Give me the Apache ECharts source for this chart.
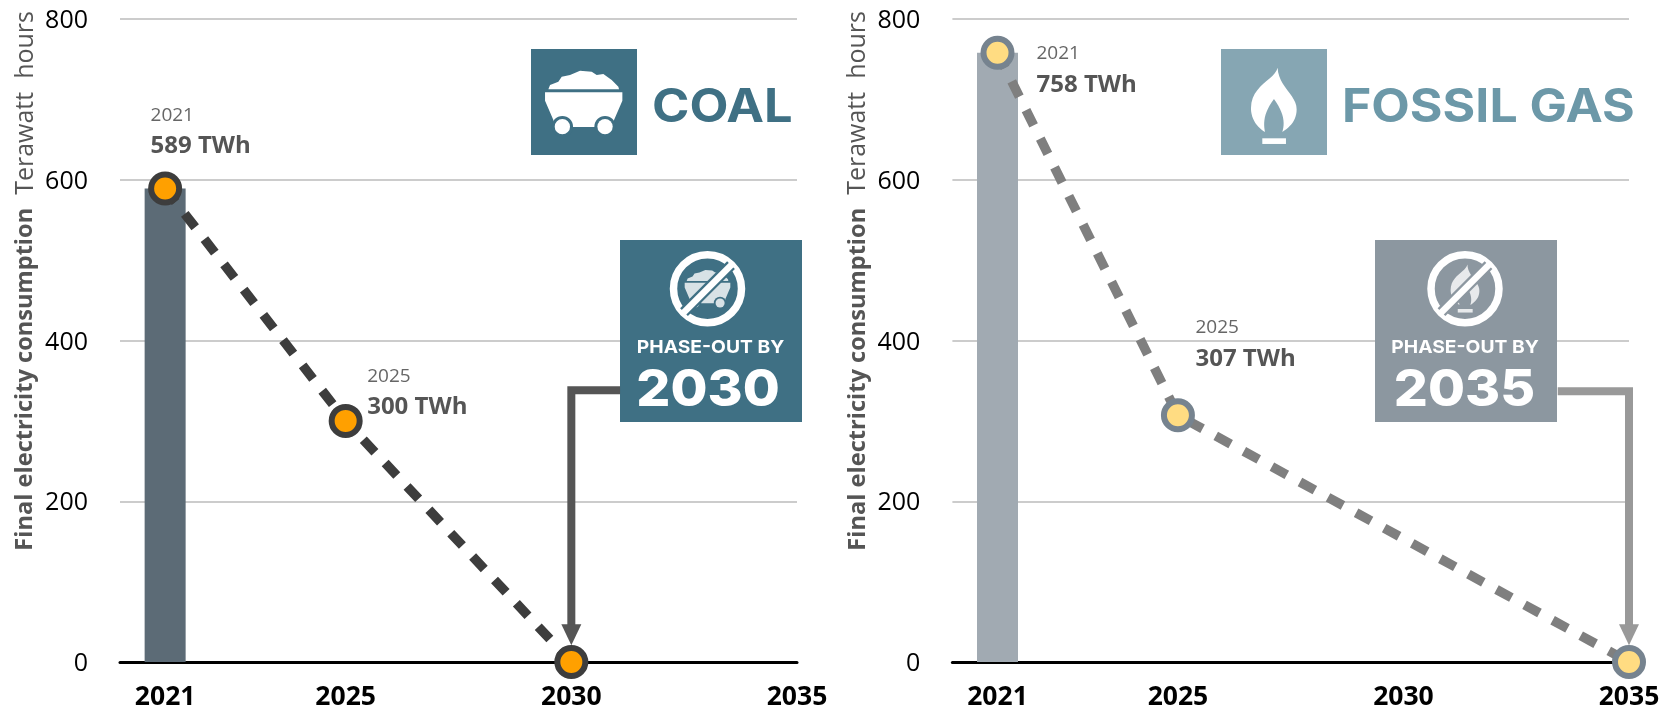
<!DOCTYPE html>
<html><head><meta charset="utf-8">
<style>html,body{margin:0;padding:0;background:#fff}#c{width:1676px;height:711px}</style>
<script src="https://cdn.jsdelivr.net/npm/echarts@6/dist/echarts.min.js"></script>
</head><body><div id="c"></div>
<script>
const tickYears=[2021,2025,2030,2035];
const coalYears=[2021,2025,2030];
const coalValues=[589,300,0];
const gasYears=[2021,2025,2035];
const gasValues=[758,307,0];
const yTitleBold='Final electricity consumption';
const yTitleLight='Terawatt  hours';
const coalConnector=[[2031.08,338],[2030,338],[2030,34]];
const gasConnector=[[2033.42,337],[2035,337],[2035,34]];
const coalLabelOffsets=[[-14.6,-57.5],[21.5,-29],null];
const gasLabelOffsets=[[39,16.5],[17.5,-72],null];

const F='"Open Sans"';
const chart=echarts.init(document.getElementById('c'),null,{renderer:'canvas'});
const grids=[{left:120,width:677,top:19,height:643},{left:952.4,width:676.6,top:19,height:643}];

function xAxis(i){return {gridIndex:i,type:'value',min:2020,max:2035,
  splitLine:{show:false},axisTick:{show:false},
  axisLine:{lineStyle:{color:'#000',width:3}},
  axisLabel:{customValues:tickYears,formatter:v=>String(v),color:'#000',fontFamily:F,fontWeight:700,fontSize:26.5,margin:22}};}
function yAxis(i){return {gridIndex:i,type:'value',min:0,max:800,interval:200,
  axisLine:{show:false},axisTick:{show:false},
  axisLabel:{margin:32,formatter:'{t|{value}}',
    rich:{t:{color:'#000',fontFamily:F,fontSize:25,padding:[4,0,0,0]}}},
  splitLine:{lineStyle:{color:'#ccc',width:2}},
  name:'{b|'+yTitleBold+'}{l|  '+yTitleLight+'}',nameLocation:'end',nameRotate:90,nameGap:8,
  nameTextStyle:{align:'right',verticalAlign:'bottom',padding:[0,0,82,0],
    rich:{b:{fontFamily:F,fontWeight:700,fontSize:23.6,color:'#555'},l:{fontFamily:F,fontSize:25,color:'#555'}}}};}

function pointsSeries(i,years,vals,offs,fill,stroke,lineCol){
  return {type:'line',xAxisIndex:i,yAxisIndex:i,z:5,clip:false,
    data:years.map((y,k)=>({value:[y,vals[k]],
      label:offs[k]?{show:true,position:'inside',align:'left',verticalAlign:'middle',offset:offs[k],
        formatter:'{y|'+y+'}\n{v|'+vals[k]+' TWh}',
        rich:{y:{fontFamily:F,fontSize:19,color:'#666',lineHeight:31},v:{fontFamily:F,fontWeight:700,fontSize:24,color:'#555',lineHeight:31}}}:{show:false}})),
    symbol:'circle',symbolSize:28,showAllSymbol:true,
    itemStyle:{color:fill,borderColor:stroke,borderWidth:6},
    lineStyle:{color:lineCol,width:9.5,type:[17,15]},animation:false};
}
function barSeries(i,year,val,col){
  return {type:'bar',xAxisIndex:i,yAxisIndex:i,barWidth:41,z:2,data:[[year,val]],itemStyle:{color:col},animation:false};
}
function connector(i,pts,col){
  return {type:'line',xAxisIndex:i,yAxisIndex:i,z:3,clip:false,animation:false,
    data:pts.map((p,k)=>k===pts.length-1?{value:p,symbol:'triangle',symbolSize:[20,21],symbolRotate:180}:{value:p,symbol:'none'}),
    showAllSymbol:true,itemStyle:{color:col},lineStyle:{color:col,width:8,join:'miter',cap:'butt'}};
}

function cart(cx,cy,s,bg,fg){
  const p=a=>a.map(q=>[(q[0]-251)/3*s,(q[1]-217.5)/3*s]);
  const c=(x,y,r,col)=>({type:'circle',z:1,shape:{cx:(x-251)/3*s,cy:(y-217.5)/3*s,r:r/3*s},style:{fill:col}});
  return {type:'group',x:cx,y:cy,children:[
    {type:'polygon',z:1,shape:{points:p([[145,178],[150,165],[175,155],[185,140],[210,135],[240,122],[275,125],[290,135],[310,132],[335,150],[355,170],[357,178]])},style:{fill:fg}},
    {type:'polygon',z:1,shape:{points:p([[135,187],[367,187],[367,212],[342,270],[340,291],[162,291],[160,270],[135,212]])},style:{fill:fg}},
    c(187,290,32,bg),c(315,290,32,bg),c(187,290,23,fg),c(315,290,23,fg)]};
}
function sampleBeziers(start,segs){
  const out=[start];let p0=start;
  segs.forEach(s=>{for(let i=1;i<=12;i++){const t=i/12,u=1-t;
    out.push([u*u*u*p0[0]+3*u*u*t*s[0]+3*u*t*t*s[2]+t*t*t*s[4],u*u*u*p0[1]+3*u*u*t*s[1]+3*u*t*t*s[3]+t*t*t*s[5]]);}
    p0=[s[4],s[5]];});
  return out;
}
function flame(cx,cy,s,fg){
  const X=v=>(v-221.5)/3*s,Y=v=>(v-227.5)/3*s;
  const pts=sampleBeziers([233,113],[[225,150,153,165,153,235],[153,270,175,295,195,306],[190,280,190,250,222,207],[253,250,255,280,247,306],[272,290,290,270,290,238],[290,195,235,170,233,113]]);
  return {type:'group',x:cx,y:cy,children:[
    {type:'polygon',z:1,shape:{points:pts.map(q=>[X(q[0]),Y(q[1])])},style:{fill:fg}},
    {type:'rect',z:1,shape:{x:X(187),y:Y(325),width:71/3*s,height:17/3*s},style:{fill:fg}}]};
}
function noSign(cx,cy,bg){
  const d=23.5;
  return {type:'group',x:cx,y:cy,children:[
    {type:'circle',z:1,shape:{cx:0,cy:0,r:34},style:{fill:'none',stroke:'#fff',lineWidth:7.5}},
    {type:'line',z:1,shape:{x1:-d,y1:d,x2:d,y2:-d},style:{stroke:bg,lineWidth:11}},
    {type:'line',z:1,shape:{x1:-d-2,y1:d+2,x2:d+2,y2:-d-2},style:{stroke:'#fff',lineWidth:6.5}}]};
}
function rect(x,y,w,h,col){return {type:'rect',z:1,shape:{x,y,width:w,height:h},style:{fill:col}};}
function txt(x,y,t,size,weight,col,align,sx){return {type:'text',z:1,x,y,scaleX:sx||1,style:{text:t,font:weight+' '+size+'px Inter',fill:col,align:align||'left',verticalAlign:'middle'}};}

const coalC='#3f7084',gasLogo='#86a6b3',gasTxt='#6c98a8',gasBox='#8c97a0',soft='rgba(255,255,255,0.8)';
const graphic=[
  rect(531,49,106,106,coalC), cart(583.7,102.5,1,coalC,'#fff'),
  txt(652,108,'COAL',46,700,coalC,'left',1.1),
  rect(620,240,182,182,coalC), cart(707.5,288.7,0.59,coalC,soft), noSign(707.5,288.7,coalC),
  txt(710.5,348,'PHASE-OUT BY',18,700,'#fff','center',1.07),
  txt(708,391,'2030',51,800,'#fff','center',1.05),
  rect(1221,49,106,106,gasLogo), flame(1273.8,105.8,1,'#fff'),
  txt(1342,108,'FOSSIL GAS',46,700,gasTxt,'left',1.087),
  rect(1375,240,182,182,gasBox), flame(1465,288.5,0.63,soft), noSign(1465,288.7,gasBox),
  txt(1465,348,'PHASE-OUT BY',18,700,'#fff','center',1.07),
  txt(1464.5,391,'2035',51,800,'#fff','center',1.05)
];

chart.setOption({animation:false,backgroundColor:'#fff',grid:grids,
  xAxis:[xAxis(0),xAxis(1)],yAxis:[yAxis(0),yAxis(1)],
  series:[
    barSeries(0,2021,coalValues[0],'#5c6b76'),
    connector(0,coalConnector,'#555'),
    pointsSeries(0,coalYears,coalValues,coalLabelOffsets,'#ffa000','#3d3d3d','#3d3d3d'),
    barSeries(1,2021,gasValues[0],'#a1aab2'),
    connector(1,gasConnector,'#999'),
    pointsSeries(1,gasYears,gasValues,gasLabelOffsets,'#ffdc82','#76838f','#7f7f7f')
  ],graphic});
</script></body></html>
